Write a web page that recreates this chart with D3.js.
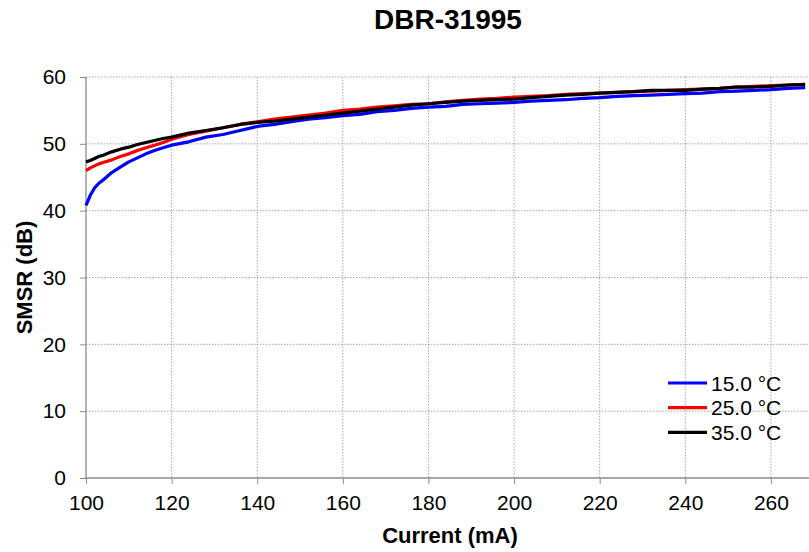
<!DOCTYPE html>
<html>
<head>
<meta charset="utf-8">
<script src="https://cdn.jsdelivr.net/npm/d3@7"></script>
<style>
  body { margin: 0; background: #fff; }
  svg { display: block; font-family: "Liberation Sans", Arial, sans-serif; }
</style>
</head>
<body>
<div id="chart"></div>
<script>
const currents = [100, 101, 102, 103, 104, 106, 108, 110, 112, 114, 116, 118, 120,
  124, 128, 132, 136, 140, 144, 148, 152, 156, 160, 164, 168, 172, 176, 180,
  184, 188, 192, 196, 200, 204, 208, 212, 216, 220, 224, 228, 232, 236, 240,
  244, 248, 252, 256, 260, 264, 268];

const smsr15 = [40.8, 42.3, 43.4, 44.1, 44.6, 45.7, 46.5, 47.3, 47.9, 48.5, 49.0, 49.4, 49.8,
  50.3, 51.0, 51.4, 52.0, 52.6, 52.9, 53.3, 53.7, 53.9, 54.2, 54.4, 54.8, 55.0, 55.3, 55.5,
  55.6, 55.9, 56.0, 56.1, 56.2, 56.4, 56.5, 56.6, 56.8, 56.9, 57.1, 57.2, 57.3, 57.4, 57.5,
  57.6, 57.8, 57.9, 58.0, 58.1, 58.3, 58.4];

const smsr25 = [46.0, 46.4, 46.7, 47.0, 47.2, 47.6, 48.1, 48.5, 49.0, 49.4, 49.8, 50.2, 50.7,
  51.4, 51.9, 52.4, 52.9, 53.3, 53.7, 54.0, 54.3, 54.6, 55.0, 55.2, 55.5, 55.7, 55.9, 56.0,
  56.3, 56.5, 56.7, 56.8, 57.0, 57.1, 57.2, 57.4, 57.5, 57.6, 57.7, 57.8, 57.9, 58.0, 58.1,
  58.2, 58.3, 58.5, 58.6, 58.7, 58.8, 58.9];

const smsr35 = [47.3, 47.5, 47.8, 48.1, 48.3, 48.8, 49.2, 49.5, 49.9, 50.2, 50.5, 50.8, 51.0,
  51.6, 52.0, 52.4, 52.9, 53.2, 53.4, 53.7, 54.0, 54.3, 54.6, 54.9, 55.2, 55.5, 55.8, 56.0,
  56.2, 56.4, 56.5, 56.6, 56.7, 56.9, 57.1, 57.3, 57.4, 57.6, 57.7, 57.8, 58.0, 58.0, 58.0,
  58.2, 58.3, 58.5, 58.5, 58.6, 58.8, 58.9];

const seriesNames = ['15.0 °C', '25.0 °C', '35.0 °C'];
const seriesColors = ['#0000ff', '#ff0000', '#000000'];
const xTicks = [100, 120, 140, 160, 180, 200, 220, 240, 260];
const yTicks = [0, 10, 20, 30, 40, 50, 60];

const WIDTH = 809, HEIGHT = 552;
const margin = {top: 77, right: 0, bottom: 74, left: 86};
const plotW = WIDTH - margin.left - margin.right,
  plotH = HEIGHT - margin.top - margin.bottom;

const svg = d3.select('#chart')
  .append('svg')
    .attr('width', WIDTH)
    .attr('height', HEIGHT);

const g = svg.append('g')
  .attr('transform', `translate(${margin.left}, ${margin.top})`);

const escalaX = d3.scaleLinear()
  .domain([100, 268.9])
  .range([0, plotW]);

const escalaY = d3.scaleLinear()
  .domain([0, 60])
  .range([plotH, 0]);

// grid
g.append('g')
  .selectAll('line')
  .data(xTicks.filter(d => d > 100))
  .join('line')
    .attr('x1', d => escalaX(d)).attr('x2', d => escalaX(d))
    .attr('y1', 0).attr('y2', plotH)
    .attr('stroke', '#a8a8a8')
    .attr('stroke-dasharray', '1.5,1.5');

g.append('g')
  .selectAll('line')
  .data(yTicks.filter(d => d > 0))
  .join('line')
    .attr('x1', 0).attr('x2', plotW)
    .attr('y1', d => escalaY(d)).attr('y2', d => escalaY(d))
    .attr('stroke', '#a8a8a8')
    .attr('stroke-dasharray', '1.5,1.5');

// axes
const xAxis = g.append('g')
  .attr('transform', `translate(0, ${plotH})`)
  .call(d3.axisBottom(escalaX).tickValues(xTicks).tickSize(6).tickPadding(11).tickFormat(d3.format('d')));

const yAxis = g.append('g')
  .call(d3.axisLeft(escalaY).tickValues(yTicks).tickSize(6).tickPadding(14));

[xAxis, yAxis].forEach(ax => {
  ax.select('.domain').attr('stroke', '#8c8c8c').attr('stroke-width', 1.3);
  ax.selectAll('.tick line').attr('stroke', '#8c8c8c');
  ax.selectAll('.tick text')
    .attr('font-size', 21)
    .attr('fill', '#000')
    .attr('font-family', '"Liberation Sans", Arial, sans-serif');
});
xAxis.select('.domain').attr('d', `M0,0H${plotW}`);
yAxis.select('.domain').attr('d', `M0,${plotH}V0`);

// lines
const allSeries = [smsr15, smsr25, smsr35];
const line = d3.line()
  .x(d => escalaX(d[0]))
  .y(d => escalaY(d[1]));

g.selectAll('path.serie')
  .data(allSeries)
  .join('path')
    .attr('class', 'serie')
    .attr('d', vals => line(currents.map((c, i) => [c, vals[i]])))
    .attr('fill', 'none')
    .attr('stroke', (d, i) => seriesColors[i])
    .attr('stroke-width', 3.2)
    .attr('stroke-linejoin', 'round');

// title and labels
svg.append('text')
  .attr('x', 448).attr('y', 29)
  .attr('text-anchor', 'middle')
  .attr('font-size', 28)
  .attr('font-weight', 'bold')
  .text('DBR-31995');

svg.append('text')
  .attr('x', 450).attr('y', 543)
  .attr('text-anchor', 'middle')
  .attr('font-size', 22)
  .attr('font-weight', 'bold')
  .text('Current (mA)');

svg.append('text')
  .attr('transform', `translate(32, ${margin.top + plotH / 2}) rotate(-90)`)
  .attr('text-anchor', 'middle')
  .attr('font-size', 22)
  .attr('font-weight', 'bold')
  .text('SMSR (dB)');

// legend
const legend = svg.append('g')
  .attr('transform', 'translate(668, 383)');

const items = legend.selectAll('g')
  .data(seriesNames)
  .join('g')
    .attr('transform', (d, i) => `translate(0, ${i * 24.7})`);

items.append('line')
  .attr('x1', 0).attr('x2', 39)
  .attr('y1', 0).attr('y2', 0)
  .attr('stroke', (d, i) => seriesColors[i])
  .attr('stroke-width', 3.2);

items.append('text')
  .attr('x', 43).attr('y', 7.5)
  .attr('font-size', 21)
  .text(d => d);
</script>
</body>
</html>
